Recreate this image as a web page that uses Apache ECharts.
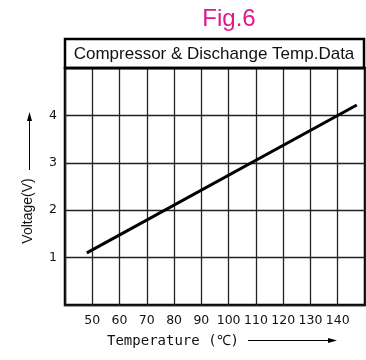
<!DOCTYPE html>
<html>
<head>
<meta charset="utf-8">
<script src="https://cdn.jsdelivr.net/npm/echarts@6/dist/echarts.min.js"></script>
<style>
html, body { margin: 0; padding: 0; background: #fff; }
#container1 { width: 366px; height: 360px; }
</style>
</head>
<body>
<div id="container1"></div>
<script>
// data
var tempRange = [40, 150];
var voltRange = [0, 5];
var lineData = [[48, 1.1], [147, 4.22]];

var dom = document.getElementById("container1");
var myChart = echarts.init(dom);
var option = {
    animation: false,
    grid: {
        left: 65,
        right: 1,
        top: 68,
        bottom: 55,
        show: true,
        borderColor: '#000',
        borderWidth: 2.5
    },
    xAxis: {
        type: 'value',
        min: tempRange[0],
        max: tempRange[1],
        interval: 10,
        axisLine: { show: false },
        axisTick: { show: false },
        axisLabel: {
            showMinLabel: false,
            showMaxLabel: false,
            color: '#111',
            fontSize: 12.5,
            fontFamily: 'DejaVu Sans',
            margin: 9
        },
        splitLine: { show: true, lineStyle: { color: '#222', width: 1.3 } }
    },
    yAxis: {
        type: 'value',
        min: voltRange[0],
        max: voltRange[1],
        interval: 1,
        axisLine: { show: false },
        axisTick: { show: false },
        axisLabel: {
            showMinLabel: false,
            showMaxLabel: false,
            color: '#111',
            fontSize: 12.5,
            fontFamily: 'DejaVu Sans',
            margin: 8
        },
        splitLine: { show: true, lineStyle: { color: '#222', width: 1.3 } }
    },
    graphic: [
        // figure label
        { type: 'text', x: 229, y: 19, style: { text: 'Fig.6', fill: '#e0188c', font: '24px "Liberation Sans"', textAlign: 'center', textVerticalAlign: 'middle' } },
        // title box
        { type: 'rect', shape: { x: 65, y: 39, width: 299, height: 29 }, style: { fill: 'none', stroke: '#000', lineWidth: 2.5 }, z: 10 },
        { type: 'text', x: 214, y: 54, style: { text: 'Compressor & Dischange Temp.Data', fill: '#111', font: '17px "Liberation Sans"', textAlign: 'center', textVerticalAlign: 'middle' } },
        // y axis name + arrow
        { type: 'text', x: 28, y: 211, rotation: Math.PI / 2, style: { text: 'Voltage(V)', fill: '#111', font: '14px "Liberation Sans"', textAlign: 'center', textVerticalAlign: 'middle' } },
        { type: 'line', shape: { x1: 29.5, y1: 170, x2: 29.5, y2: 118 }, style: { stroke: '#000', lineWidth: 1 } },
        { type: 'polygon', shape: { points: [[29.5, 112], [27, 121], [32, 121]] }, style: { fill: '#000' } },
        // x axis name + arrow
        { type: 'text', x: 173, y: 341, style: { text: 'Temperature (℃)', fill: '#111', font: '14px "DejaVu Sans Mono"', textAlign: 'center', textVerticalAlign: 'middle' } },
        { type: 'line', shape: { x1: 248, y1: 340.5, x2: 330, y2: 340.5 }, style: { stroke: '#000', lineWidth: 1 } },
        { type: 'polygon', shape: { points: [[337, 340.5], [328, 338], [328, 343]] }, style: { fill: '#000' } }
    ],
    series: [
        {
            type: 'line',
            data: lineData,
            symbol: 'none',
            lineStyle: { color: '#000', width: 3 },
            z: 5
        }
    ]
};
myChart.setOption(option, true);
</script>
</body>
</html>
